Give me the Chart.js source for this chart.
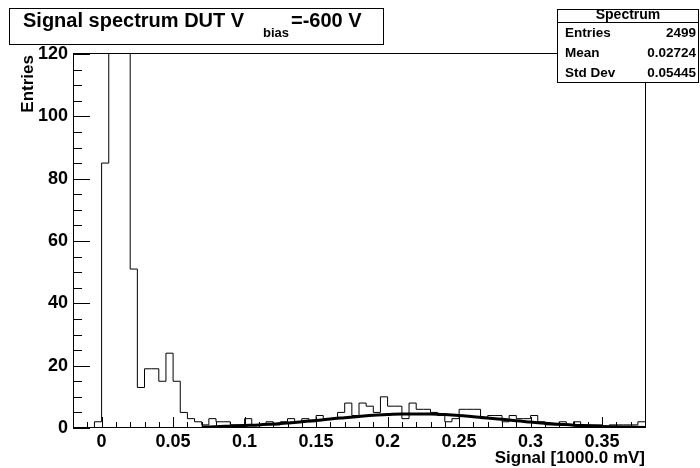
<!DOCTYPE html>
<html><head><meta charset="utf-8">
<script src="https://cdn.jsdelivr.net/npm/chart.js@4.4.1/dist/chart.umd.min.js"></script>
<style>html,body{margin:0;padding:0;background:#fff;}canvas{display:block;}</style>
</head><body>
<canvas id="c" width="700" height="468"></canvas>
<script>
// ---- data ----
const histLow = -0.02, histHigh = 0.38, binWidth = 0.005;
const counts = [0,0,0,2, 85,1390,510,145,51,13,19,19,15,24, 15,5,3,2,1,3,2,2,1,1, 3,1,1,2,1,2,3,2,3,2, 4,3,3,5,8,4,8,7,5,10, 7,7,3,8,6,6,5,4,2,3, 6,6,6,3,4,4,2,4,3,3, 4,2,1,1,2,1,2,1,1,1, 0,1,1,1,1,2];
const fitX = [0.07,0.08,0.09,0.10,0.11,0.12,0.13,0.14,0.15,0.16,0.17,0.18,0.19,0.20,0.21,0.22,0.23,0.24,0.25,0.26,0.27,0.28,0.29,0.30,0.31,0.32,0.33,0.34,0.35,0.36,0.37,0.38];
const fitY = [0.3,0.4,0.6,0.8,1.0,1.3,1.6,2.0,2.4,2.9,3.3,3.7,4.1,4.3,4.5,4.5,4.5,4.3,4.0,3.6,3.2,2.8,2.3,1.9,1.5,1.2,0.9,0.7,0.5,0.4,0.3,0.2];
const xTickValues = [0,0.05,0.1,0.15,0.2,0.25,0.3,0.35];
const xTickLabels = ['0','0.05','0.1','0.15','0.2','0.25','0.3','0.35'];
const yTickValues = [0,20,40,60,80,100,120];
const yTickLabels = ['0','20','40','60','80','100','120'];
const titleMain = 'Signal spectrum DUT V', titleSub = 'bias', titleEnd = '=-600 V';
const statsTitle = 'Spectrum';
const statsLabels = ['Entries','Mean','Std Dev'];
const statsValues = ['2499','0.02724','0.05445'];
const xTitle = 'Signal [1000.0 mV]', yTitle = 'Entries';

// ---- build ----
const FONT = '"Liberation Sans", Arial, Helvetica, sans-serif';
// point at each bin's low edge carrying that bin's count, plus the final high edge;
// 'before' stepping holds each value across its own bin
const histPts = counts.map((c,i)=>({x: histLow + i*binWidth, y: c}));
histPts.push({x: histHigh, y: counts[counts.length-1]});

const fitPts = fitX.map((x,i)=>({x, y: fitY[i]}));

const decor = {
  id:'decor',
  afterDraw(chart){
    const ctx = chart.ctx, a = chart.chartArea;
    const xs = chart.scales.x, ys = chart.scales.y;
    ctx.save();
    ctx.strokeStyle = '#000'; ctx.lineWidth = 1;
    // frame
    ctx.strokeRect(Math.round(a.left)+0.5, Math.round(a.top)-0.5, Math.round(a.right-a.left), Math.round(a.bottom-a.top));
    // y ticks
    ctx.beginPath();
    for (let v=0; v<=120; v+=5){
      const y = Math.round(ys.getPixelForValue(v))+0.5;
      const len = (v%20===0) ? 17 : 9;
      ctx.moveTo(a.left, y); ctx.lineTo(a.left+len, y);
    }
    // x ticks
    for (let i=-2; i<=38; i++){
      const x = Math.round(xs.getPixelForValue(i/100))+0.5;
      const len = (i%5===0) ? 11 : 6;
      ctx.moveTo(x, a.bottom); ctx.lineTo(x, a.bottom-len);
    }
    ctx.stroke();
    // title box
    ctx.fillStyle = '#fff';
    ctx.fillRect(9,8,374,36);
    ctx.strokeRect(9.5,8.5,374,36);
    ctx.fillStyle = '#000';
    ctx.textBaseline = 'alphabetic'; ctx.textAlign = 'left';
    ctx.font = 'bold 20px ' + FONT;
    ctx.fillText(titleMain, 23, 27);
    ctx.fillText(titleEnd, 291, 27);
    ctx.font = 'bold 13px ' + FONT;
    ctx.fillText(titleSub, 263, 37);
    // stats box
    ctx.fillStyle = '#fff';
    ctx.fillRect(557,9,142,73);
    ctx.strokeRect(557.5,9.5,141,73);
    ctx.beginPath(); ctx.moveTo(557,22.5); ctx.lineTo(699,22.5); ctx.stroke();
    ctx.fillStyle = '#000';
    ctx.textBaseline = 'middle';
    ctx.textAlign = 'center';
    ctx.font = 'bold 14px ' + FONT;
    ctx.fillText(statsTitle, 628, 15.5);
    ctx.font = 'bold 13.5px ' + FONT;
    statsLabels.forEach((l,i)=>{
      const y = 33 + i*20;
      ctx.textAlign = 'left'; ctx.fillText(l, 565, y);
      ctx.textAlign = 'right'; ctx.fillText(statsValues[i], 696, y);
    });
    // axis titles
    ctx.font = 'bold 17px ' + FONT;
    ctx.textAlign = 'right'; ctx.textBaseline = 'middle';
    ctx.fillText(xTitle, a.right, 458);
    ctx.translate(28, a.top+1);
    ctx.rotate(-Math.PI/2);
    ctx.fillText(yTitle, 0, 0);
    ctx.restore();
  }
};

new Chart(document.getElementById('c').getContext('2d'), {
  type:'line',
  data:{datasets:[
    {data: fitPts, borderColor:'#000', borderWidth:3, pointRadius:0, fill:false, cubicInterpolationMode:'monotone', order:0},
    {data: histPts, stepped:'before', borderColor:'#000', borderWidth:1, pointRadius:0, fill:false, order:1}
  ]},
  options:{
    responsive:false, animation:false, devicePixelRatio:1,
    layout:{padding:{left:0, top:54, right:55, bottom:0}},
    plugins:{legend:{display:false}, tooltip:{enabled:false}, title:{display:false}},
    scales:{
      x:{type:'linear', min:histLow, max:histHigh,
        grid:{display:false, drawTicks:false, tickLength:0}, border:{display:false},
        afterBuildTicks: s=>{ s.ticks = xTickValues.map(v=>({value:v})); },
        afterFit: s=>{ s.height = 40; },
        ticks:{callback:(v,i)=>xTickLabels[i], font:{family:FONT, size:18, weight:'bold'}, color:'#000', padding:3, maxRotation:0, autoSkip:false}
      },
      y:{type:'linear', min:0, max:120,
        grid:{display:false, drawTicks:false, tickLength:0}, border:{display:false},
        afterBuildTicks: s=>{ s.ticks = yTickValues.map(v=>({value:v})); },
        afterFit: s=>{ s.width = 73; },
        ticks:{callback:(v,i)=>yTickLabels[i], font:{family:FONT, size:18, weight:'bold'}, color:'#000', padding:5, autoSkip:false}
      }
    }
  },
  plugins:[decor]
});
</script>
</body></html>
